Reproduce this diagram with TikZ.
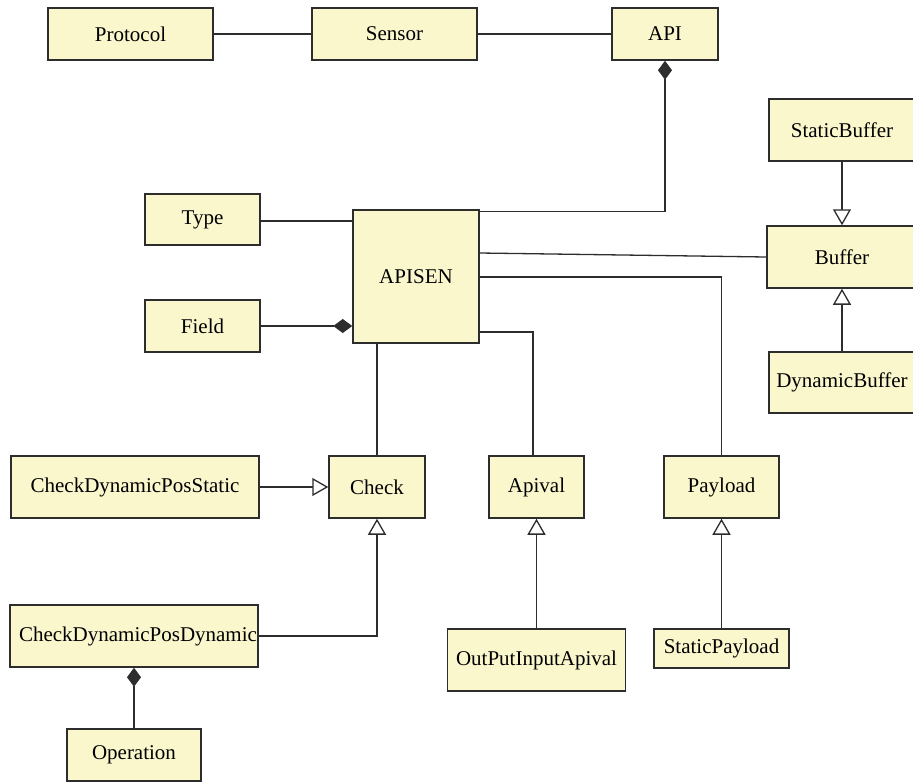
\documentclass[tikz,border=0pt]{standalone}
\usepackage{fontspec}
\setmainfont{Liberation Serif}
\usetikzlibrary{arrows.meta}
\definecolor{classfill}{RGB}{250,247,205}
\definecolor{ink}{RGB}{45,45,45}
\begin{document}
\begin{tikzpicture}[x=1pt,y=-1pt,
  cls/.style={draw=ink,fill=classfill,line width=1.5pt,rectangle,inner sep=0pt,
    font=\fontsize{21}{25}\selectfont},
  link/.style={draw=ink,line width=1.3pt},
  inherit/.style={link,-{Triangle[open,length=16pt,width=18pt,fill=white]}},
  compose/.style={link,-{Diamond[length=19pt,width=14pt]}}]
\useasboundingbox (0,0) rectangle (913,782);
\clip (0,0) rectangle (913,782);

% classes
\node[cls,minimum width=165pt,minimum height=52pt] (protocol) at (130.5,34) {Protocol};
\node[cls,minimum width=165pt,minimum height=52pt] (sensor) at (394.5,34) {Sensor};
\node[cls,minimum width=106pt,minimum height=52pt] (api) at (665,34) {API};
\node[cls,minimum width=146pt,minimum height=62pt] (staticbuffer) at (842,130) {StaticBuffer};
\node[cls,minimum width=150pt,minimum height=62pt] (buffer) at (842,257) {Buffer};
\node[cls,minimum width=146pt,minimum height=61pt] (dynbuffer) at (842,382.5) {DynamicBuffer};
\node[cls,minimum width=115pt,minimum height=51pt] (type) at (202.5,219.5) {Type};
\node[cls,minimum width=115pt,minimum height=52pt] (field) at (202.5,326) {Field};
\node[cls,minimum width=126pt,minimum height=133pt] (apisen) at (416,276.5) {APISEN};
\node[cls,minimum width=96pt,minimum height=62pt] (check) at (377,487) {Check};
\node[cls,minimum width=95pt,minimum height=62pt] (apival) at (536.5,487) {Apival};
\node[cls,minimum width=115pt,minimum height=62pt] (payload) at (721.5,487) {Payload};
\node[cls,minimum width=248pt,minimum height=62pt] (cdps) at (135,487) {CheckDynamicPosStatic};
\node[cls,minimum width=248pt,minimum height=62pt] (cdpd) at (134,636) {};
\node[font=\fontsize{21}{25}\selectfont,inner sep=0pt] (cdpdname) at (138,636) {CheckDynamicPosDynamic};
\node[cls,minimum width=134pt,minimum height=52pt] (operation) at (134,755) {Operation};
\node[cls,minimum width=178pt,minimum height=62pt] (outin) at (536.5,660) {OutPutInputApival};
\node[cls,minimum width=135pt,minimum height=39pt] (staticpayload) at (721.5,648.5) {StaticPayload};

% associations
\draw[link] ([yshift=-1.5pt]type.east) -- ([yshift=-1.5pt]type.east -| apisen.west);
\draw[link] (protocol.east) -- (sensor.west);
\draw[link] (sensor.east) -- (api.west);
\draw[link] ([yshift=23.5pt]apisen.east) -- (buffer.west);
\draw[link] ([yshift=-0.5pt]apisen.east) -| (payload.north);
\draw[link] ([yshift=-55.5pt]apisen.east) -| ([xshift=-3.5pt]apival.north);
\draw[link] (check.north |- apisen.south) -- (check.north);

% compositions
\draw[compose] ([yshift=-2pt]apisen.north east) -| (api.south);
\draw[compose] (field.east) -- (field.east -| apisen.west);
\draw[compose] (operation.north) -- (cdpd.south);

% generalisations
\draw[inherit] (cdps.east) -- (check.west);
\draw[inherit] (cdpd.east) -| (check.south);
\draw[inherit] (outin.north) -- (apival.south);
\draw[inherit] (staticpayload.north) -- (payload.south);
\draw[inherit] (staticbuffer.south) -- (buffer.north);
\draw[inherit] (dynbuffer.north) -- (buffer.south);
\end{tikzpicture}
\end{document}
